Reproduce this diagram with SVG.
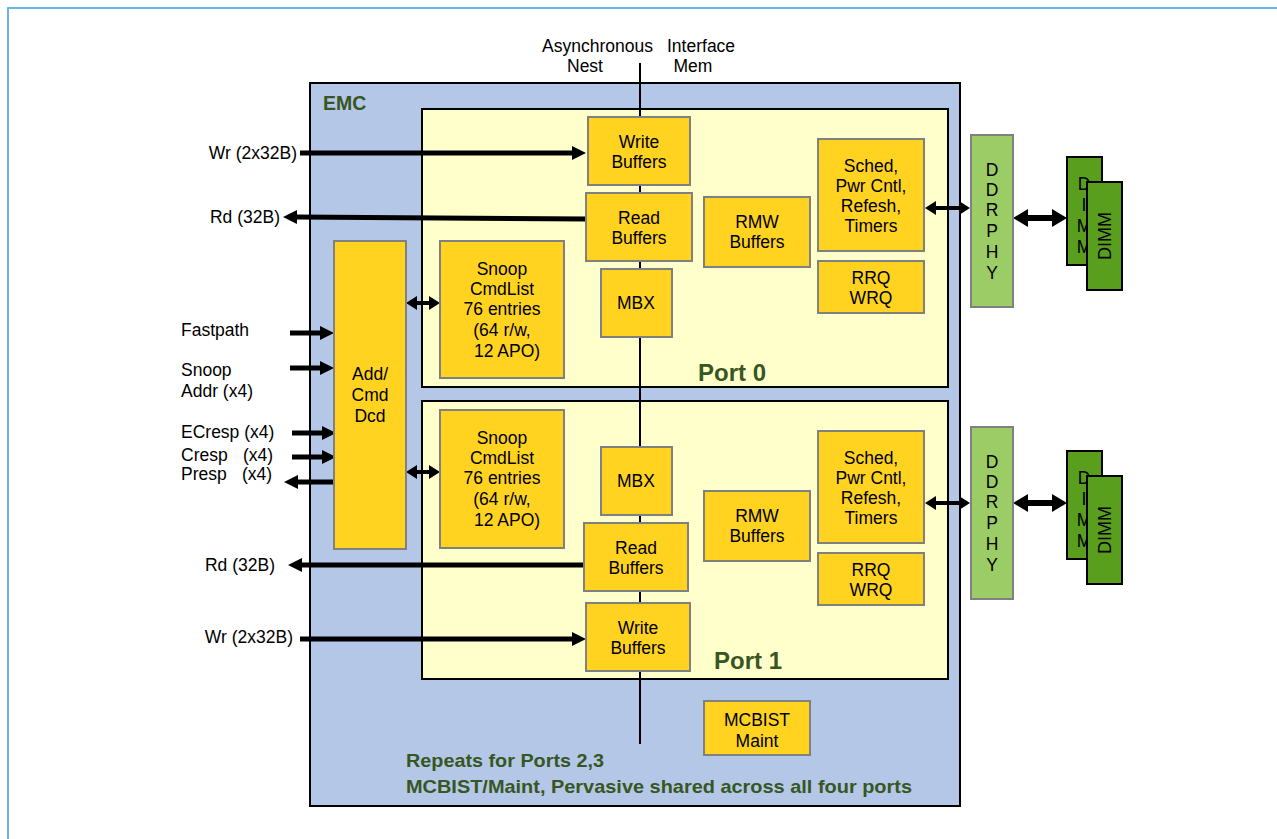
<svg xmlns="http://www.w3.org/2000/svg" width="1277" height="839" viewBox="0 0 1277 839">
<defs>
<style>
text{font-family:"Liberation Sans",Arial,sans-serif;font-size:17.5px;fill:#000}
.c{text-anchor:middle}
.e{text-anchor:end}
.g{font-weight:bold;fill:#375623}
.blk{fill:#FFD320;stroke:#808080;stroke-width:2}
.port{fill:#FFFFCC;stroke:#000;stroke-width:2}
.phy{fill:#9BCC66;stroke:#808080;stroke-width:2}
.dimm{fill:#5A9E1E;stroke:#000;stroke-width:2}
.w{stroke:#000;stroke-width:5;fill:none}
.ws{stroke:#000;stroke-width:4;fill:none}
.wl{stroke:#000;stroke-width:6;fill:none}
</style>
<marker id="ah" viewBox="0 0 14 14" refX="1" refY="7" markerWidth="14" markerHeight="14" markerUnits="userSpaceOnUse" orient="auto-start-reverse"><path d="M0,0 L14,7 L0,14 z" fill="#000"/></marker>
<marker id="ahs" viewBox="0 0 11 14" refX="1" refY="7" markerWidth="11" markerHeight="14" markerUnits="userSpaceOnUse" orient="auto-start-reverse"><path d="M0,0 L11,7 L0,14 z" fill="#000"/></marker>
<marker id="ahl" viewBox="0 0 15 18" refX="1" refY="9" markerWidth="15" markerHeight="18" markerUnits="userSpaceOnUse" orient="auto-start-reverse"><path d="M0,0 L15,9 L0,18 z" fill="#000"/></marker>
</defs>
<rect x="0" y="0" width="1277" height="839" fill="#fff"/>
<rect x="8" y="8" width="1300" height="900" fill="none" stroke="#6CB4EE" stroke-width="2"/>

<g id="emc">
<rect x="310" y="83" width="650" height="723" fill="#B4C7E7" stroke="#000" stroke-width="2"/>
<text x="323" y="110" class="g" style="font-size:19.5px">EMC</text>
</g>
<g id="port0"><rect x="422" y="109" width="526" height="278" class="port"/><text x="698" y="381" class="g" style="font-size:24px">Port 0</text></g>
<g id="port1"><rect x="422" y="401" width="526" height="278" class="port"/><text x="714" y="669" class="g" style="font-size:24px">Port 1</text></g>

<g id="async-interface">
<line x1="640" y1="63" x2="640" y2="744" stroke="#000" stroke-width="2"/>
<text x="542" y="52">Asynchronous<tspan x="667">Interface</tspan></text>
<text x="585" y="72" class="c">Nest</text>
<text x="693" y="72" class="c">Mem</text>
</g>

<g id="connectors">
<line x1="300" y1="153" x2="573" y2="153" class="w" marker-end="url(#ah)"/>
<line x1="586" y1="219" x2="296" y2="217" class="w" marker-end="url(#ah)"/>
<line x1="290" y1="333" x2="321" y2="333" class="w" marker-end="url(#ah)"/>
<line x1="290" y1="368" x2="321" y2="368" class="w" marker-end="url(#ah)"/>
<line x1="292" y1="433" x2="323" y2="433" class="w" marker-end="url(#ah)"/>
<line x1="292" y1="457" x2="323" y2="457" class="w" marker-end="url(#ah)"/>
<line x1="333" y1="482" x2="297" y2="482" class="w" marker-end="url(#ah)"/>
<line x1="584" y1="565" x2="301" y2="565" class="w" marker-end="url(#ah)"/>
<line x1="300" y1="639" x2="573" y2="639" class="w" marker-end="url(#ah)"/>
<line x1="416" y1="303" x2="430" y2="303" class="ws" marker-start="url(#ahs)" marker-end="url(#ahs)"/>
<line x1="416" y1="472" x2="430" y2="472" class="ws" marker-start="url(#ahs)" marker-end="url(#ahs)"/>
<line x1="935" y1="208" x2="960" y2="208" class="ws" marker-start="url(#ahs)" marker-end="url(#ahs)"/>
<line x1="935" y1="503" x2="960" y2="503" class="ws" marker-start="url(#ahs)" marker-end="url(#ahs)"/>
<line x1="1027" y1="218" x2="1053" y2="218" class="wl" marker-start="url(#ahl)" marker-end="url(#ahl)"/>
<line x1="1027" y1="503" x2="1053" y2="503" class="wl" marker-start="url(#ahl)" marker-end="url(#ahl)"/>
</g>

<g id="io-labels">
<text x="297" y="159" class="e">Wr (2x32B)</text>
<text x="280" y="223" class="e">Rd (32B)</text>
<text x="181" y="336">Fastpath</text>
<text x="181" y="376">Snoop</text>
<text x="181" y="397">Addr (x4)</text>
<text x="181" y="438">ECresp (x4)</text>
<text x="181" y="461">Cresp<tspan x="243">(x4)</tspan></text>
<text x="181" y="480">Presp<tspan x="242">(x4)</tspan></text>
<text x="275" y="571" class="e">Rd (32B)</text>
<text x="293" y="643" class="e">Wr (2x32B)</text>
</g>

<g id="p0-write-buffers"><rect x="588" y="117" width="102" height="68" class="blk"/><text x="639" y="148" class="c">Write</text><text x="639" y="168" class="c">Buffers</text></g>
<g id="p0-read-buffers"><rect x="586" y="193" width="106" height="68" class="blk"/><text x="639" y="224" class="c">Read</text><text x="639" y="244" class="c">Buffers</text></g>
<g id="p0-mbx"><rect x="601" y="269" width="71" height="68" class="blk"/><text x="636" y="309" class="c">MBX</text></g>
<g id="p0-snoop"><rect x="440" y="241" width="124" height="137" class="blk"/><text x="502" y="275" class="c">Snoop</text><text x="502" y="295" class="c">CmdList</text><text x="502" y="315" class="c">76 entries</text><text x="502" y="336" class="c">(64 r/w,</text><text x="507" y="357" class="c">12 APO)</text></g>
<g id="p0-rmw"><rect x="704" y="197" width="106" height="70" class="blk"/><text x="757" y="228" class="c">RMW</text><text x="757" y="248" class="c">Buffers</text></g>
<g id="p0-sched"><rect x="818" y="139" width="106" height="112" class="blk"/><text x="871" y="172" class="c">Sched,</text><text x="871" y="192" class="c">Pwr Cntl,</text><text x="871" y="212" class="c">Refesh,</text><text x="871" y="232" class="c">Timers</text></g>
<g id="p0-rrq"><rect x="818" y="261" width="106" height="52" class="blk"/><text x="871" y="284" class="c">RRQ</text><text x="871" y="304" class="c">WRQ</text></g>

<g id="add-cmd-dcd"><rect x="334" y="241" width="72" height="308" class="blk"/><text x="370" y="380" class="c">Add/</text><text x="370" y="401" class="c">Cmd</text><text x="370" y="422" class="c">Dcd</text></g>

<g id="p1-snoop"><rect x="440" y="410" width="124" height="138" class="blk"/><text x="502" y="444" class="c">Snoop</text><text x="502" y="464" class="c">CmdList</text><text x="502" y="484" class="c">76 entries</text><text x="502" y="505" class="c">(64 r/w,</text><text x="507" y="526" class="c">12 APO)</text></g>
<g id="p1-mbx"><rect x="601" y="447" width="71" height="68" class="blk"/><text x="636" y="487" class="c">MBX</text></g>
<g id="p1-read-buffers"><rect x="584" y="523" width="104" height="68" class="blk"/><text x="636" y="554" class="c">Read</text><text x="636" y="574" class="c">Buffers</text></g>
<g id="p1-write-buffers"><rect x="586" y="603" width="104" height="68" class="blk"/><text x="638" y="634" class="c">Write</text><text x="638" y="654" class="c">Buffers</text></g>
<g id="p1-rmw"><rect x="704" y="491" width="106" height="70" class="blk"/><text x="757" y="522" class="c">RMW</text><text x="757" y="542" class="c">Buffers</text></g>
<g id="p1-sched"><rect x="818" y="431" width="106" height="112" class="blk"/><text x="871" y="464" class="c">Sched,</text><text x="871" y="484" class="c">Pwr Cntl,</text><text x="871" y="504" class="c">Refesh,</text><text x="871" y="524" class="c">Timers</text></g>
<g id="p1-rrq"><rect x="818" y="553" width="106" height="52" class="blk"/><text x="871" y="576" class="c">RRQ</text><text x="871" y="596" class="c">WRQ</text></g>

<g id="mcbist"><rect x="704" y="701" width="106" height="54" class="blk"/><text x="757" y="726" class="c">MCBIST</text><text x="757" y="747" class="c">Maint</text></g>
<g id="notes">
<text x="406" y="767" class="g" style="font-size:19px" textLength="198" lengthAdjust="spacingAndGlyphs">Repeats for Ports 2,3</text>
<text x="406" y="793" class="g" style="font-size:19px" textLength="506" lengthAdjust="spacingAndGlyphs">MCBIST/Maint, Pervasive shared across all four ports</text>
</g>

<g id="p0-ddrphy"><rect x="971" y="135" width="42" height="172" class="phy"/><text x="992" y="176" class="c">D</text><text x="992" y="196" class="c">D</text><text x="992" y="216" class="c">R</text><text x="992" y="237" class="c">P</text><text x="992" y="258" class="c">H</text><text x="992" y="279" class="c">Y</text></g>
<g id="p0-dimm-back"><rect x="1067" y="157" width="35" height="108" class="dimm"/><text x="1084" y="190" class="c">D</text><text x="1084" y="211" class="c">I</text><text x="1084" y="232" class="c">M</text><text x="1084" y="253" class="c">M</text></g>
<g id="p0-dimm-front"><rect x="1087" y="182" width="35" height="108" class="dimm"/><text transform="translate(1111,236) rotate(-90)" class="c" style="font-size:18px">DIMM</text></g>

<g id="p1-ddrphy"><rect x="971" y="427" width="42" height="172" class="phy"/><text x="992" y="468" class="c">D</text><text x="992" y="488" class="c">D</text><text x="992" y="508" class="c">R</text><text x="992" y="529" class="c">P</text><text x="992" y="550" class="c">H</text><text x="992" y="571" class="c">Y</text></g>
<g id="p1-dimm-back"><rect x="1067" y="451" width="35" height="108" class="dimm"/><text x="1084" y="484" class="c">D</text><text x="1084" y="505" class="c">I</text><text x="1084" y="526" class="c">M</text><text x="1084" y="547" class="c">M</text></g>
<g id="p1-dimm-front"><rect x="1087" y="476" width="35" height="108" class="dimm"/><text transform="translate(1111,530) rotate(-90)" class="c" style="font-size:18px">DIMM</text></g>
</svg>
